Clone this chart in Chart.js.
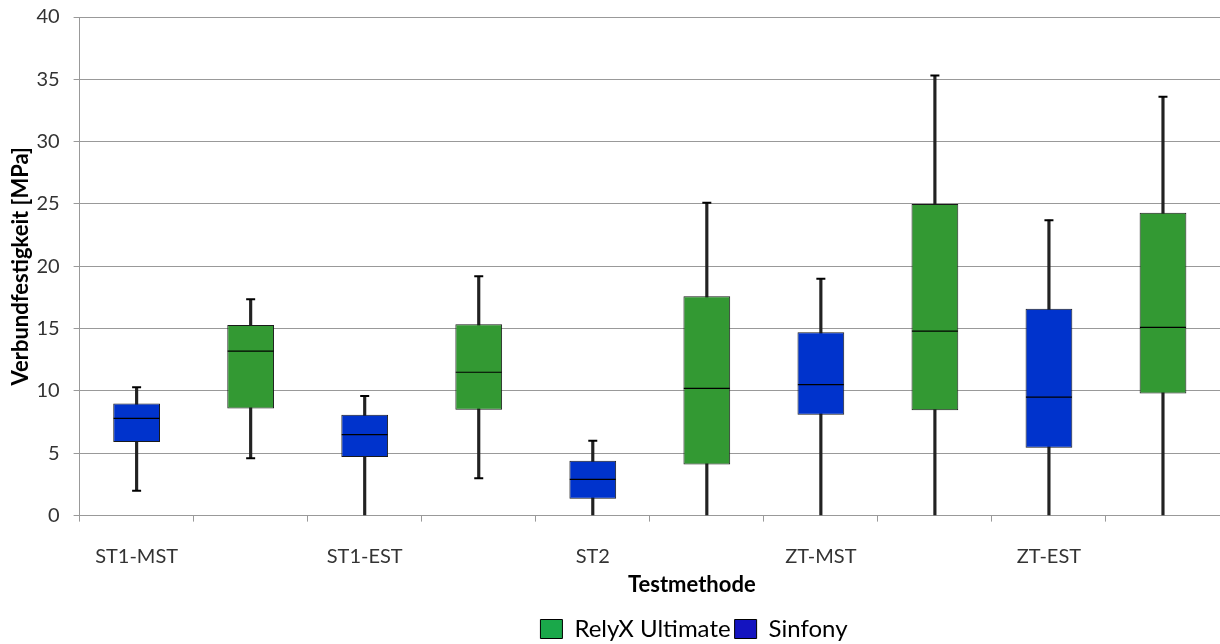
<!DOCTYPE html>
<html>
<head>
<meta charset="utf-8">
<script src="https://cdn.jsdelivr.net/npm/chart.js@4"></script>
<style>
  body { margin: 0; background: #fff; }
  #wrap { width: 1220px; height: 644px; }
</style>
</head>
<body>
<div id="wrap"><canvas id="myChart"></canvas></div>
<script>
// daten
const gruppen = ['ST1-MST', 'ST1-EST', 'ST2', 'ZT-MST', 'ZT-EST'];

// Sinfony (blau)
const sinMin = [2.0, 0, 0, 0, 0];
const sinQ1  = [5.9, 4.7, 1.35, 8.1, 5.45];
const sinMed = [7.8, 6.5, 2.9, 10.5, 9.5];
const sinQ3  = [9.0, 8.1, 4.4, 14.7, 16.6];
const sinMax = [10.3, 9.6, 6.0, 19.0, 23.7];

// RelyX Ultimate (gruen)
const relMin = [4.6, 3.0, 0, 0, 0];
const relQ1  = [8.6, 8.5, 4.1, 8.45, 9.8];
const relMed = [13.2, 11.5, 10.2, 14.8, 15.1];
const relQ3  = [15.3, 15.35, 17.6, 25.0, 24.3];
const relMax = [17.35, 19.2, 25.1, 35.3, 33.6];

const yTicks = [0, 5, 10, 15, 20, 25, 30, 35, 40];

const blau = '#0033cc';
const gruen = '#339933';

// 10 plaetze: blau, gruen, blau, gruen ...
const labels = [];
const boxSin = [], boxRel = [], whisker = [], median = [], capMax = [], capMin = [];
gruppen.forEach(function (g, i) {
    labels.push(g, '');
    boxSin.push([sinQ1[i], sinQ3[i]], null);
    boxRel.push(null, [relQ1[i], relQ3[i]]);
    whisker.push([sinMin[i], sinMax[i]], [relMin[i], relMax[i]]);
    median.push(sinMed[i], relMed[i]);
    capMax.push(sinMax[i], relMax[i]);
    capMin.push(sinMin[i] > 0 ? sinMin[i] : null, relMin[i] > 0 ? relMin[i] : null);
});

const fonte = 'Lato, Carlito, "Open Sans", sans-serif';
const titelText = 'Testmethode';

// legende und achsentitel wie im original etwas nach rechts
const verschieben = {
    id: 'verschieben',
    afterLayout: function (chart) {
        chart.legend.left += 80;
        chart.legend.right += 80;
    },
    afterDraw: function (chart) {
        const s = chart.scales.x;
        const ctx = chart.ctx;
        ctx.save();
        ctx.font = 'bold 22px ' + fonte;
        ctx.fillStyle = '#000';
        ctx.textAlign = 'center';
        ctx.textBaseline = 'middle';
        ctx.fillText(titelText, (chart.chartArea.left + chart.chartArea.right) / 2 + 42, s.bottom - 28);
        ctx.restore();
    }
};

const config = {
    type: 'bar',
    data: {
        labels: labels,
        datasets: [
            {
                label: 'RelyX Ultimate',
                data: boxRel,
                backgroundColor: gruen,
                borderColor: '#1a1a1a',
                borderWidth: 1,
                borderSkipped: false,
                grouped: false,
                barPercentage: 0.41,
                categoryPercentage: 1,
                order: 2
            },
            {
                label: 'Sinfony',
                data: boxSin,
                backgroundColor: blau,
                borderColor: '#1a1a1a',
                borderWidth: 1,
                borderSkipped: false,
                grouped: false,
                barPercentage: 0.41,
                categoryPercentage: 1,
                order: 2
            },
            {
                label: 'whisker',
                data: whisker,
                backgroundColor: '#222',
                borderWidth: 0,
                grouped: false,
                barThickness: 2.5,
                order: 3
            },
            {
                type: 'line',
                label: 'median',
                data: median,
                showLine: false,
                pointStyle: 'line',
                pointRadius: 23,
                pointHoverRadius: 23,
                pointBorderColor: '#000',
                pointBorderWidth: 1.2,
                order: 1
            },
            {
                type: 'line',
                label: 'capMax',
                data: capMax,
                showLine: false,
                pointStyle: 'line',
                pointRadius: 4.5,
                pointHoverRadius: 4.5,
                pointBorderColor: '#000',
                pointBorderWidth: 2,
                order: 1
            },
            {
                type: 'line',
                label: 'capMin',
                data: capMin,
                showLine: false,
                pointStyle: 'line',
                pointRadius: 4.5,
                pointHoverRadius: 4.5,
                pointBorderColor: '#000',
                pointBorderWidth: 2,
                order: 1
            }
        ]
    },
    options: {
        responsive: true,
        maintainAspectRatio: false,
        animation: false,
        layout: { autoPadding: false, padding: { top: 0, right: 0, left: 8, bottom: -7 } },
        plugins: {
            tooltip: { enabled: false },
            legend: {
                position: 'bottom',
                labels: {
                    font: { family: fonte, size: 24 },
                    color: '#000',
                    boxWidth: 22,
                    boxHeight: 19,
                    padding: 4,
                    generateLabels: function () {
                        return [
                            { text: 'RelyX Ultimate', fillStyle: '#1aa84a', strokeStyle: '#000', lineWidth: 1, datasetIndex: 0 },
                            { text: 'Sinfony', fillStyle: '#1414c0', strokeStyle: '#000', lineWidth: 1, datasetIndex: 1 }
                        ];
                    }
                }
            }
        },
        scales: {
            x: {
                offset: true,
                grid: {
                    offset: true,
                    drawOnChartArea: false,
                    drawTicks: true,
                    tickLength: 6,
                    color: '#999'
                },
                border: { color: '#999' },
                ticks: {
                    autoSkip: false,
                    maxRotation: 0,
                    padding: 23,
                    color: '#333',
                    font: { family: fonte, size: 20 }
                },
                title: {
                    display: true,
                    text: titelText,
                    color: 'rgba(0,0,0,0)',
                    font: { family: fonte, size: 22, weight: 'bold' },
                    padding: { top: -24, bottom: 19 }
                }
            },
            y: {
                min: 0,
                max: 40,
                afterBuildTicks: function (axis) {
                    axis.ticks = yTicks.map(function (v) { return { value: v }; });
                },
                grid: {
                    color: '#999',
                    tickLength: 6
                },
                border: { color: '#999' },
                ticks: {
                    padding: 14,
                    color: '#333',
                    font: { family: fonte, size: 20, lineHeight: 0.3 }
                },
                title: {
                    display: true,
                    text: 'Verbundfestigkeit [MPa]',
                    color: '#000',
                    font: { family: fonte, size: 22, weight: 'bold' },
                    padding: { top: 0, bottom: -12 }
                }
            }
        }
    },
    plugins: [verschieben]
};

document.addEventListener('DOMContentLoaded', function () {
    var ctx = document.getElementById('myChart').getContext('2d');
    new Chart(ctx, config);
});
</script>
</body>
</html>
